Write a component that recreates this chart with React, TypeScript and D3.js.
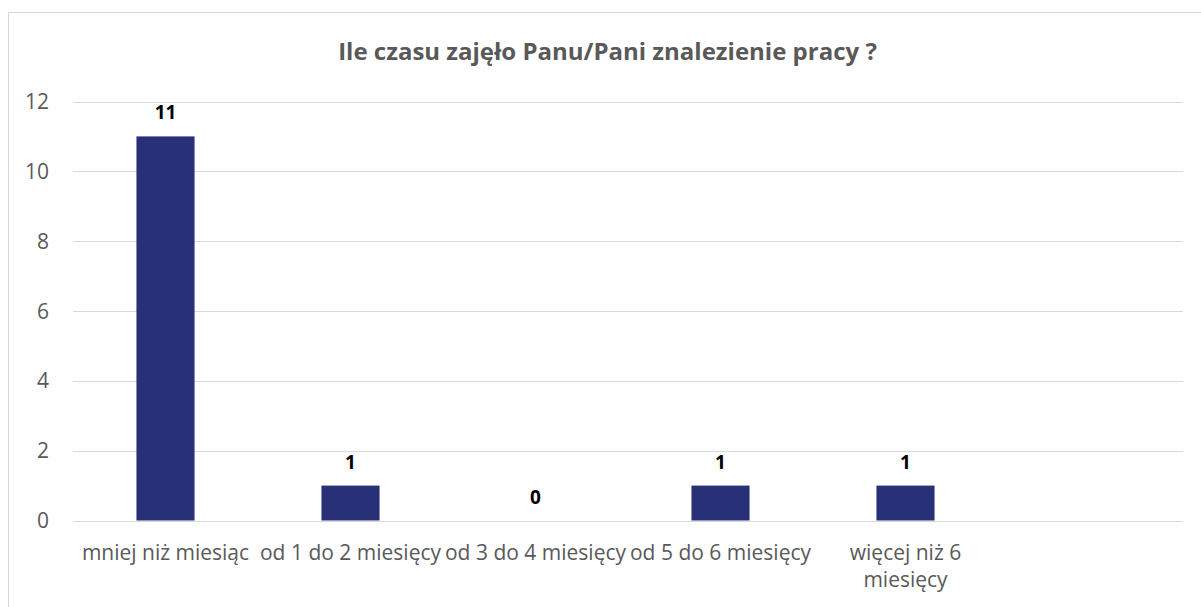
import React from "react";
import * as d3 from "d3";

const title = "Ile czasu zajęło Panu/Pani znalezienie pracy ?";
const categories = [
  "mniej niż miesiąc",
  "od 1 do 2 miesięcy",
  "od 3 do 4 miesięcy",
  "od 5 do 6 miesięcy",
  "więcej niż 6\nmiesięcy",
  "",
];
const values = [11, 1, 0, 1, 1, null];
const yTicks = [0, 2, 4, 6, 8, 10, 12];

const W = 1201;
const H = 607;
const plot = { left: 73, right: 1183, top: 101.5, bottom: 520.5 };
const FONT = "'Open Sans', Lato, sans-serif";

export default function App() {
  const x = d3
    .scaleBand<string>()
    .domain(categories.map((c, i) => String(i)))
    .range([plot.left, plot.right])
    .paddingInner(0.686)
    .paddingOuter(0.343);
  const step = x.step();
  const y = d3.scaleLinear().domain([0, 12]).range([plot.bottom, plot.top]);

  return (
    <svg
      width={W}
      height={H}
      style={{ position: "absolute", left: 0, top: 0, background: "#fff" }}
      fontFamily={FONT}
    >
      <rect x={8.5} y={12.5} width={1200} height={600} fill="#fff" stroke="#d9d9d9" strokeWidth={1} />
      <text
        x={607.5}
        y={60}
        textAnchor="middle"
        fontSize={24}
        fontWeight="bold"
        fill="#595959"
      >
        {title}
      </text>
      {yTicks.map((t) => (
        <g key={t}>
          <line
            x1={plot.left}
            x2={plot.right}
            y1={Math.round(y(t)) + 0.5}
            y2={Math.round(y(t)) + 0.5}
            stroke="#d9d9d9"
            strokeWidth={1}
          />
          <text
            x={49}
            y={y(t) + 7.5}
            textAnchor="end"
            fontSize={21}
            fill="#595959"
          >
            {t}
          </text>
        </g>
      ))}
      {categories.map((c, i) => {
        const v = values[i];
        const cx = plot.left + step * i + step / 2;
        return (
          <g key={i}>
            {v !== null && v > 0 && (
              <rect
                x={x(String(i))}
                y={y(v)}
                width={x.bandwidth()}
                height={y(0) - y(v)}
                fill="#283078"
              />
            )}
            {v !== null && (
              <text
                x={cx}
                y={y(v) - 17}
                textAnchor="middle"
                fontSize={19}
                fontWeight="bold"
                fill="#000"
              >
                {v}
              </text>
            )}
            {c.split("\n").map((line, j) => (
              <text
                key={j}
                x={cx}
                y={560 + j * 27}
                textAnchor="middle"
                fontSize={21}
                fill="#595959"
              >
                {line}
              </text>
            ))}
          </g>
        );
      })}
    </svg>
  );
}
